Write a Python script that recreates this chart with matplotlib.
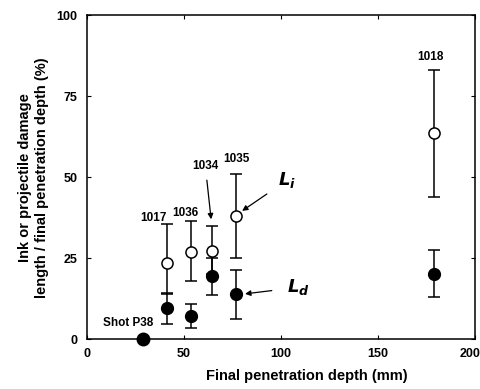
import matplotlib.pyplot as plt
from matplotlib.transforms import ScaledTranslation

plt.rcParams['font.family'] = ['Liberation Sans', 'DejaVu Sans']
plt.rcParams['font.weight'] = 'bold'

shots = ['1017', '1036', '1034', '1035', '1018']
depth = [41, 53.7, 64.6, 77, 179]

# ink length L_i (open circles)
li = [23.5, 27, 27.2, 38, 63.5]
li_lo = [14, 18, 20, 25, 44]
li_hi = [35.5, 36.5, 35, 51, 83]

# projectile damage length L_d (filled circles)
ld = [9.5, 7.2, 19.5, 14, 20]
ld_lo = [4.6, 3.4, 13.6, 6.2, 13]
ld_hi = [14.2, 10.8, 25, 21.5, 27.5]

p38_depth = 29
p38_val = 0

fig = plt.figure(figsize=(4.81, 3.89), dpi=100)
ax = fig.add_axes([0.181, 0.128, 0.806, 0.833])

ax.errorbar(depth, li, yerr=[[v - lo for v, lo in zip(li, li_lo)],
                             [hi - v for v, hi in zip(li, li_hi)]],
            fmt='o', mfc='white', mec='black', ms=8, mew=1.1,
            ecolor='black', elinewidth=1.1, capsize=4, capthick=1.1, zorder=2)
ax.errorbar(depth, ld, yerr=[[v - lo for v, lo in zip(ld, ld_lo)],
                             [hi - v for v, hi in zip(ld, ld_hi)]],
            fmt='o', mfc='black', mec='black', ms=8.5,
            ecolor='black', elinewidth=1.1, capsize=4, capthick=1.1, zorder=3)
ax.plot([p38_depth], [p38_val], 'o', color='black', ms=9, clip_on=False, zorder=4)

fs = 8.5
ax.text(34, 5, 'Shot P38', fontsize=fs, ha='right', va='center')
ax.text(34, 37.5, shots[0], fontsize=fs, ha='center', va='center')
ax.text(50.6, 39, shots[1], fontsize=fs, ha='center', va='center')
ax.text(77, 55.7, shots[3], fontsize=fs, ha='center', va='center')
ax.text(177, 87, shots[4], fontsize=fs, ha='center', va='center')
ax.annotate(shots[2], xy=(64, 37), xytext=(61, 53.5),
            fontsize=fs, ha='center', va='center',
            arrowprops=dict(arrowstyle='-|>', color='black', lw=0.9,
                            mutation_scale=8, shrinkA=4, shrinkB=0))
ax.annotate(r'$\mathbfit{L}_{\mathbfit{i}}$', xy=(80, 39.6), xytext=(103, 49),
            fontsize=13, ha='center', va='center',
            arrowprops=dict(arrowstyle='-|>', color='black', lw=0.9,
                            mutation_scale=8, shrinkA=7, shrinkB=0))
ax.annotate(r'$\mathbfit{L}_{\mathbfit{d}}$', xy=(81.5, 14), xytext=(109, 16),
            fontsize=13, ha='center', va='center',
            arrowprops=dict(arrowstyle='-|>', color='black', lw=0.9,
                            mutation_scale=8, shrinkA=9, shrinkB=0))

ax.set_xlim(0, 200)
ax.set_ylim(0, 100)
ax.set_xticks([0, 50, 100, 150, 200])
ax.set_yticks([0, 25, 50, 75, 100])
ax.tick_params(axis='x', direction='in', length=3, width=0.8, labelsize=9,
               top=True, pad=6)
ax.tick_params(axis='y', direction='in', length=3, width=0.8, labelsize=9,
               right=True, pad=7)
for lab in ax.get_xticklabels() + ax.get_yticklabels():
    lab.set_fontweight('bold')
# nudge the last x label so it stays inside the figure
last = ax.get_xticklabels()[-1]
last.set_transform(last.get_transform() + ScaledTranslation(-5 / 100, 0, fig.dpi_scale_trans))
for sp in ax.spines.values():
    sp.set_linewidth(1.1)

ax.set_xlabel('Final penetration depth (mm)', fontsize=10.5, fontweight='bold')
ax.xaxis.set_label_coords(0.567, -0.093)
ax.set_ylabel('Ink or projectile damage\nlength / final penetration depth (%)',
              fontsize=10.5, fontweight='bold', linespacing=1.25)
ax.yaxis.set_label_coords(-0.099, 0.5)

fig.savefig('out.png', dpi=100)
